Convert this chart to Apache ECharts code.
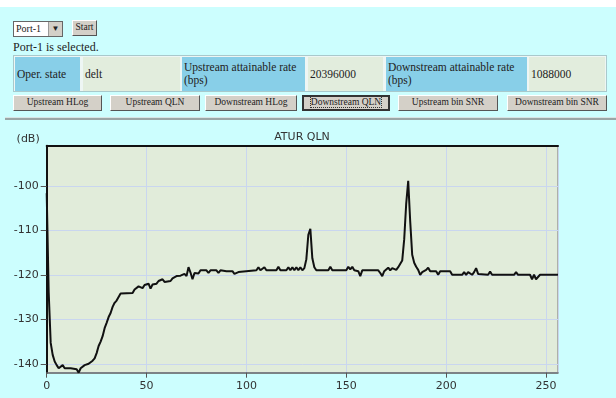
<!DOCTYPE html>
<html>
<head>
<meta charset="utf-8">
<script src="https://cdn.jsdelivr.net/npm/echarts@6/dist/echarts.min.js"></script>
<style>
body { margin: 0; width: 616px; height: 398px; background: #ccfefe; overflow: hidden; position: relative;
  font-family: "Liberation Serif", serif; color: #222; }
.abs { position: absolute; }
.topband { left: 0; top: 0; width: 616px; height: 7px; background: #fff; }
.sel { left: 13px; top: 21px; width: 48px; height: 14px; background: #fff; border: 1px solid #666; font-size: 10px; line-height: 14px; }
.sel span { padding-left: 2px; }
.sel .arr { position: absolute; right: 0; top: 0; width: 13px; height: 14px; background: #d4d0c8; border-left: 1px solid #999; text-align: center; font-size: 8px; }
.btn { background: #d4d0c8; border: 1px solid; border-color: #fff #555 #555 #fff; box-sizing: border-box;
  font-size: 9.5px; text-align: center; line-height: 13px; color: #222; white-space: nowrap; }
.btn.on { border: 2px solid #333; line-height: 11px; }
.btn.on span { outline: 1px dotted #333; }
.selected { left: 13px; top: 40px; font-size: 12px; }
.tbl { left: 13px; top: 55px; width: 594px; height: 37px; background: #eef6f4; border: 1px solid #a9c9cc; box-sizing: border-box; }
.cell { top: 57px; height: 34px; font-size: 11.5px; line-height: 13px; box-sizing: border-box; padding: 0 2px; display: flex; align-items: center; }
.blue { background: #88cfe8; }
.light { background: #e2eddd; }
.sep { left: 5px; top: 117px; width: 611px; height: 3px; background: #9aa6a6; border-top: 1px solid #d8e4e4; box-sizing: border-box; }
#chart { left: 0; top: 120px; width: 616px; height: 278px; }
</style>
</head>
<body>
<div class="abs topband"></div>
<div class="abs sel"><span>Port-1</span><div class="arr">&#9660;</div></div>
<div class="abs btn" style="left:72px;top:20px;width:25px;height:16px;">Start</div>
<div class="abs selected">Port-1 is selected.</div>

<div class="abs tbl"></div>
<div class="abs cell blue" style="left:15px;width:65px;">Oper. state</div>
<div class="abs cell light" style="left:83px;width:97px;">delt</div>
<div class="abs cell blue" style="left:182px;width:123px;">Upstream attainable rate<br>(bps)</div>
<div class="abs cell light" style="left:308px;width:75px;">20396000</div>
<div class="abs cell blue" style="left:386px;width:141px;">Downstream attainable rate<br>(bps)</div>
<div class="abs cell light" style="left:529px;width:76px;">1088000</div>

<div class="abs btn" style="left:13px;top:95px;width:89px;height:16px;">Upstream HLog</div>
<div class="abs btn" style="left:110px;top:95px;width:90px;height:16px;">Upstream QLN</div>
<div class="abs btn" style="left:205px;top:95px;width:92px;height:16px;">Downstream HLog</div>
<div class="abs btn on" style="left:302px;top:95px;width:88px;height:16px;"><span>Downstream QLN</span></div>
<div class="abs btn" style="left:398px;top:95px;width:100px;height:16px;">Upstream bin SNR</div>
<div class="abs btn" style="left:507px;top:95px;width:100px;height:16px;">Downstream bin SNR</div>
<div class="abs sep"></div>

<div id="chart" class="abs"></div>

<script>
// tone index (bin) and QLN value in dB
var bins = [0, 1, 2, 3, 4, 5, 6, 7, 8, 9, 12, 15, 16, 17, 18, 19, 20, 21, 22, 23, 24, 25, 26, 27, 28, 29, 30,
  31, 32, 33, 34, 35, 36, 37, 43, 44, 45, 46, 47, 48, 49, 50, 51, 52, 53, 55, 56, 57, 58, 59, 60, 62, 63, 64,
  65, 66, 67, 68, 69, 70, 71, 72, 73, 74, 75, 76, 77, 80, 81, 82, 85, 86, 87, 90, 93, 94, 96, 97, 105, 106,
  107, 108, 109, 110, 115, 116, 117, 120, 121, 122, 123, 124, 125, 126, 127, 128, 129, 130, 131, 132, 133,
  134, 135, 141, 142, 143, 150, 151, 152, 153, 154, 156, 157, 158, 166, 167, 168, 169, 171, 172, 173, 174,
  175, 176, 177, 178, 179, 180, 181, 182, 183, 184, 185, 186, 187, 188, 189, 190, 191, 192, 195, 196, 197,
  202, 203, 208, 209, 210, 211, 212, 213, 214, 215, 216, 217, 221, 222, 223, 234, 235, 236, 242, 243, 244,
  245, 246, 247, 256];
var qln = [-101.7, -124, -135.3, -138, -139.5, -140.3, -141, -141, -140.3, -141, -141, -141.2, -142, -141,
  -141, -140.3, -140.5, -140, -140.3, -139.3, -138.8, -137.6, -136, -135, -133.8, -132, -130.8,
  -129.5, -128.6, -127.2, -126.3, -125.8, -125, -124.2, -124.1, -123.3, -123.2, -122.6, -122.4, -123, -122.3,
  -122.6, -122, -123.1, -122.2, -122, -121.4, -121.4, -121, -121.6, -121.4, -121.4, -120.8, -121,
  -120.3, -120.7, -120.2, -120.6, -119.8, -120.3, -118.3, -119.5, -121, -119.6, -119.2, -119.7, -119, -119,
  -119.6, -119, -119, -119.6, -119, -119.2, -119.2, -119.8, -119.4, -119, -119, -118.3,
  -119, -119, -118.3, -119, -119, -118.2, -119, -119, -118.3, -119, -118.3, -119, -118.3, -119, -118.3,
  -119, -118.5, -116.5, -111, -109.7, -116.3,
  -118.3, -119, -119, -118.2, -119, -119, -118.2, -118.8, -118.2, -119, -119.2, -120.3, -119, -119, -119.6,
  -120.3, -119.2, -118.4, -119, -118.5, -118.2,
  -118.9, -118.3, -118, -116.8, -112, -104, -98.9, -108, -115.5, -117.3, -118.2, -118.9, -120, -119.4,
  -119.6, -118.9, -118.4, -119.2, -119.2, -120, -119.2,
  -119.2, -120, -120, -119.4, -120, -119.4, -119.4, -120, -119.4, -118.5, -119.8, -120.2, -120, -119.3,
  -120, -120, -119.4, -120, -120, -121, -120,
  -121, -121, -120, -120];

var xMax = 256;
var yMin = -142;
var yMax = -91;

var points = bins.map(function (b, i) { return [b, qln[i]]; });

var chart = echarts.init(document.getElementById('chart'));
var option = {
  animation: false,
  title: {
    text: 'ATUR QLN',
    left: 302, top: 12, padding: 0,
    textAlign: 'center',
    textStyle: { fontFamily: 'DejaVu Sans', fontSize: 11, fontWeight: 'normal', color: '#333' }
  },
  grid: {
    left: 46.7, right: 58, top: 25.7, bottom: 25.3,
    show: true,
    backgroundColor: '#e1ecda',
    borderColor: '#777',
    borderWidth: 1
  },
  xAxis: [{
    type: 'value',
    min: 0, max: xMax, interval: 50,
    axisLine: { lineStyle: { color: '#666', width: 1.5 } },
    axisTick: { length: 5, lineStyle: { color: '#555' } },
    axisLabel: { margin: 8, showMaxLabel: false, fontFamily: 'DejaVu Sans', fontSize: 11, color: '#333' },
    splitLine: { lineStyle: { color: '#c9d6ef', width: 1 } }
  }, {
    // top border of the plot
    type: 'value', position: 'top',
    min: 0, max: xMax,
    axisLine: { show: true, lineStyle: { color: '#111', width: 2 } },
    axisTick: { show: false }, axisLabel: { show: false }, splitLine: { show: false }
  }],
  yAxis: {
    type: 'value',
    min: yMin, max: yMax, splitNumber: 5,
    name: '(dB)', nameLocation: 'end', nameGap: 7,
    nameTextStyle: { align: 'right', verticalAlign: 'middle', padding: [0, 7, 0, 0],
      fontFamily: 'DejaVu Sans', fontSize: 11, color: '#333' },
    axisLine: { show: true, lineStyle: { color: '#111', width: 2 } },
    axisTick: { show: true, length: 6, lineStyle: { color: '#555' } },
    axisLabel: { margin: 8, showMinLabel: false, showMaxLabel: false, fontFamily: 'DejaVu Sans', fontSize: 11, color: '#333' },
    splitLine: { lineStyle: { color: '#c9d6ef', width: 1 } }
  },
  series: [{
    type: 'line',
    data: points,
    showSymbol: false,
    lineStyle: { color: '#111', width: 2 }
  }]
};
chart.setOption(option);
</script>
</body>
</html>
